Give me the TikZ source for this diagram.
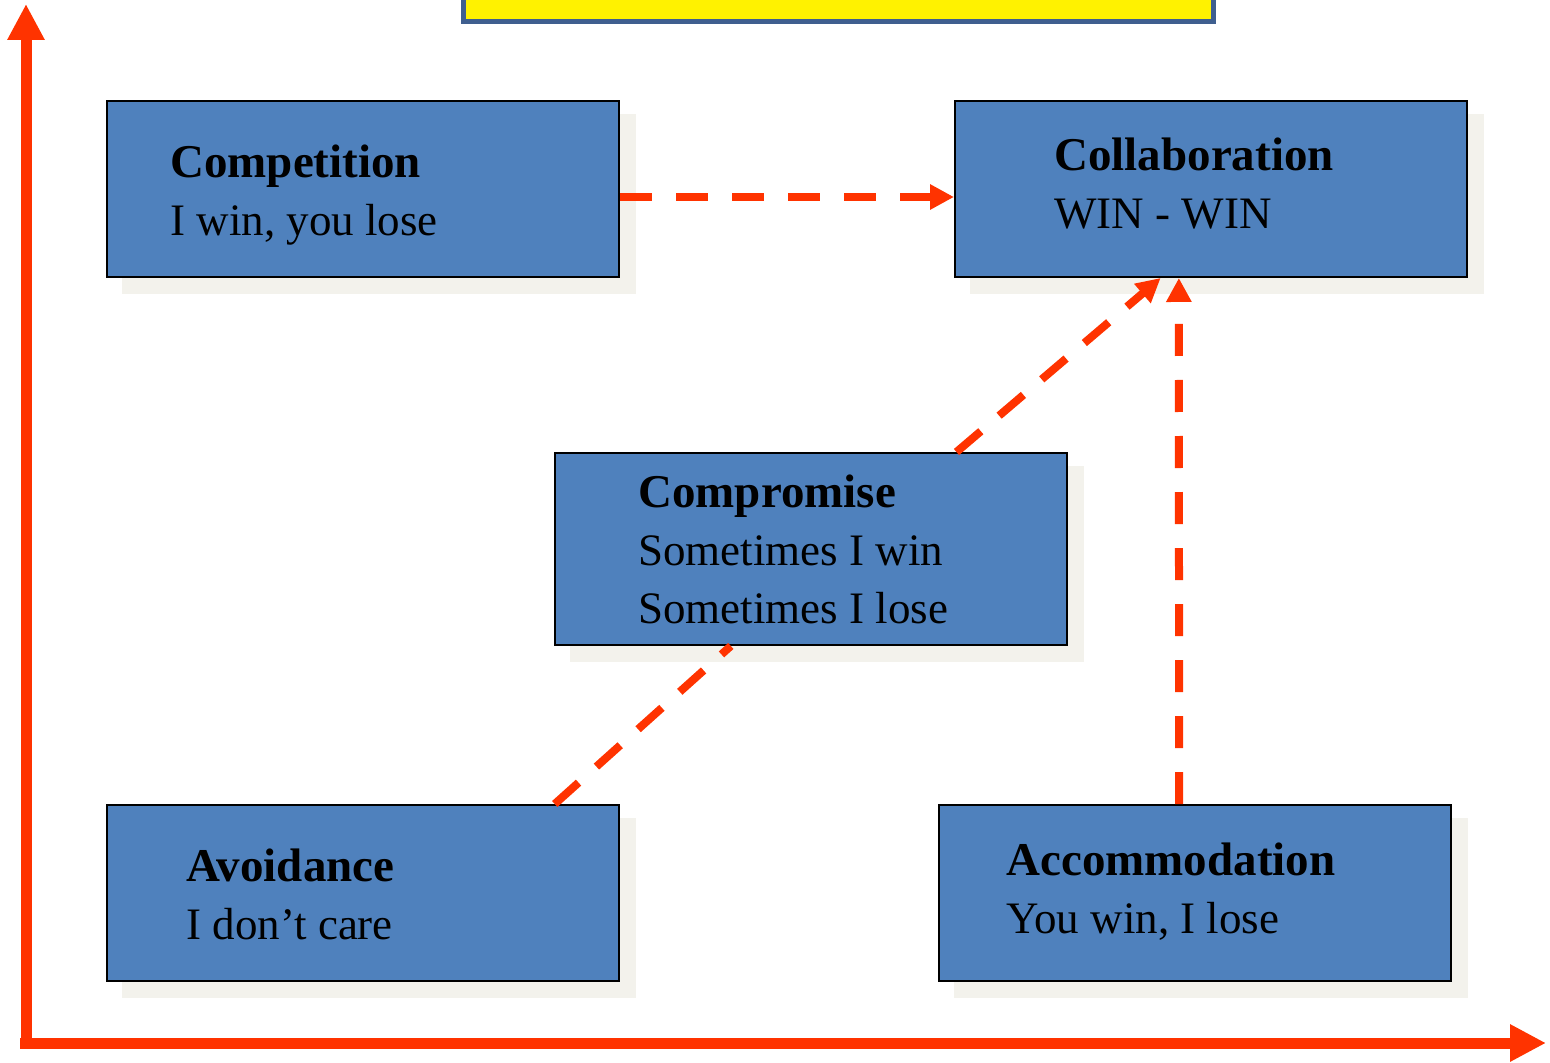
\documentclass[tikz,border=0pt]{standalone}
\usepackage{fontspec}
\setmainfont{Liberation Serif}
\usetikzlibrary{arrows.meta,calc,backgrounds}
\definecolor{boxblue}{HTML}{4F81BD}
\definecolor{shadowc}{HTML}{F3F2EC}
\definecolor{redline}{HTML}{FF3300}
\definecolor{ybord}{HTML}{3F5F8F}
\tikzset{
  box/.style={draw=black, line width=1pt, fill=boxblue, anchor=north west,
    minimum width=256pt, inner sep=0pt},
  txt/.style={anchor=base west, inner sep=0pt, font=\fontsize{22.5}{26}\selectfont},
  btxt/.style={anchor=base west, inner sep=0pt, font=\fontsize{23.5}{27}\selectfont\bfseries},
  axis/.style={draw=redline, line width=5.5pt, -{Triangle[length=18pt,width=17.5pt]}},
  dasharrow/.style={draw=redline, line width=4pt, dash pattern=on 16pt off 12pt,
    -{Triangle[length=12pt,width=12pt]}},
  dashline/.style={draw=redline, line width=4pt, dash pattern=on 16pt off 12pt}
}
\begin{document}
\begin{tikzpicture}[x=0.5pt,y=-0.5pt]
\useasboundingbox (0,0) rectangle (1550,1063);
% title box (cut off at top)
\node[draw=ybord, line width=2.4pt, fill=yellow, anchor=south west, minimum width=375pt, minimum height=30pt, inner sep=0pt] (title) at (461,24) {};
% boxes
\node[box, minimum height=88pt] (comp) at (106,100) {};
\node[box, minimum height=88pt] (coll) at (954,100) {};
\node[box, minimum height=96pt] (prom) at (554,452) {};
\node[box, minimum height=88pt] (avoi) at (106,804) {};
\node[box, minimum height=88pt] (acco) at (938,804) {};
\begin{scope}[on background layer]
\foreach \b in {comp,coll,prom,avoi,acco}{
  \fill[shadowc] ($(\b.south west)+(16,16)$) rectangle ($(\b.north east)+(16,14)$);
}
\end{scope}
% texts
\node[btxt] (t1a) at (170,178) {Competition};
\node[txt] (t1b) at (170,236) {I win, you lose};
\node[btxt] (t2a) at (1054,171) {Collaboration};
\node[txt] (t2b) at (1054,229) {WIN - WIN};
\node[btxt] (t3a) at (638,507) {Compromise};
\node[txt] (t3b) at (638,565) {Sometimes I win};
\node[txt] (t3c) at (638,623) {Sometimes I lose};
\node[btxt] (t4a) at (186,881) {Avoidance};
\node[txt] (t4b) at (186,939) {I don’t care};
\node[btxt] (t5a) at (1006,875) {Accommodation};
\node[txt] (t5b) at (1006,933) {You win, I lose};
% axes
\coordinate (ybot) at (26,1048);
\coordinate (ytop) at (26,4);
\coordinate (xleft) at (20,1043);
\coordinate (xright) at (1546,1043);
\draw[axis] (ybot) -- (ytop);
\draw[axis] (xleft) -- (xright);
% connectors
\draw[dasharrow] ($(comp.north east)!0.545!(comp.south east)$) -- ($(coll.north west)!0.545!(coll.south west)$);
\draw[dasharrow] ($(prom.north west)!0.783!(prom.north east)$) -- ($(coll.south west)!0.402!(coll.south east)$);
\draw[dasharrow] ($(acco.north west)!0.469!(acco.north east)$) -- ($(coll.south west)!0.4375!(coll.south east)$);
\draw[dashline] ($(avoi.north west)!0.873!(avoi.north east)$) -- ($(prom.south west)!0.344!(prom.south east)$);
\end{tikzpicture}
\end{document}
